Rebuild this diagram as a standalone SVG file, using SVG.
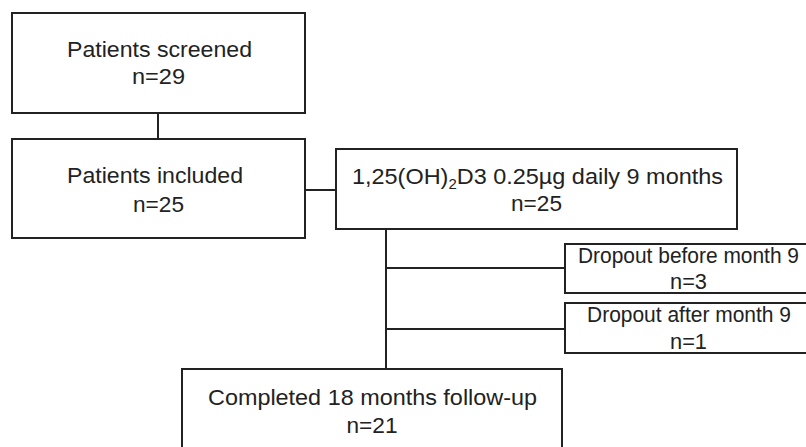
<svg xmlns="http://www.w3.org/2000/svg" width="806" height="447" viewBox="0 0 806 447">
<style>
.box{fill:#fff;stroke:#222;stroke-width:2}
.ln{stroke:#222;stroke-width:2;fill:none}
text{font-family:"Liberation Sans",Arial,sans-serif;font-size:22px;fill:#222;text-anchor:middle}
</style>
<rect width="806" height="447" fill="#fff"/>
<g id="connectors">
<line class="ln" x1="158" y1="113" x2="158" y2="139"/>
<line class="ln" x1="305" y1="190" x2="336" y2="190"/>
<line class="ln" x1="386" y1="229" x2="386" y2="369"/>
<line class="ln" x1="386" y1="268" x2="565" y2="268"/>
<line class="ln" x1="386" y1="329" x2="565" y2="329"/>
</g>
<g id="screened">
<rect class="box" x="12" y="13" width="293" height="100"/>
<text x="159.5" y="57" textLength="185" lengthAdjust="spacingAndGlyphs">Patients screened</text>
<text x="158.5" y="84" textLength="53" lengthAdjust="spacingAndGlyphs">n=29</text>
</g>
<g id="included">
<rect class="box" x="12" y="139" width="293" height="99"/>
<text x="155" y="183" textLength="176" lengthAdjust="spacingAndGlyphs">Patients included</text>
<text x="158.5" y="212" textLength="51" lengthAdjust="spacingAndGlyphs">n=25</text>
</g>
<g id="treatment">
<rect class="box" x="336" y="149" width="401" height="80"/>
<text x="537.5" y="184" textLength="371" lengthAdjust="spacingAndGlyphs">1,25(OH)<tspan font-size="14" dy="5">2</tspan><tspan dy="-5">D3 0.25µg daily 9 months</tspan></text>
<text x="536.5" y="211" textLength="51" lengthAdjust="spacingAndGlyphs">n=25</text>
</g>
<g id="dropout-before">
<rect class="box" x="565" y="244" width="250" height="49"/>
<text x="688.5" y="263" textLength="221" lengthAdjust="spacingAndGlyphs">Dropout before month 9</text>
<text x="688.5" y="289" textLength="37" lengthAdjust="spacingAndGlyphs">n=3</text>
</g>
<g id="dropout-after">
<rect class="box" x="565" y="303" width="250" height="50"/>
<text x="689" y="322" textLength="204" lengthAdjust="spacingAndGlyphs">Dropout after month 9</text>
<text x="688.5" y="349" textLength="37" lengthAdjust="spacingAndGlyphs">n=1</text>
</g>
<g id="completed">
<rect class="box" x="182" y="369" width="380" height="100"/>
<text x="372.5" y="405" textLength="329" lengthAdjust="spacingAndGlyphs">Completed 18 months follow-up</text>
<text x="372" y="433" textLength="51" lengthAdjust="spacingAndGlyphs">n=21</text>
</g>
</svg>
